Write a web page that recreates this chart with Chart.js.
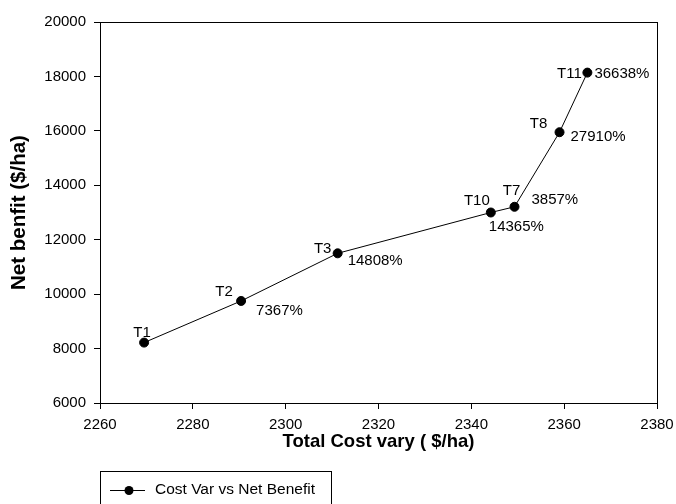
<!DOCTYPE html>
<html>
<head>
<meta charset="utf-8">
<script src="https://cdn.jsdelivr.net/npm/chart.js@4/dist/chart.umd.min.js"></script>
<style>
html,body{margin:0;padding:0;background:#fff;}
#wrap{width:676px;height:504px;position:relative;}
</style>
</head>
<body>
<div id="wrap"><canvas id="c" width="676" height="504"></canvas></div>
<script>
const treatments = ['T1', 'T2', 'T3', 'T10', 'T7', 'T8', 'T11'];
const totalCost = [2269.5, 2290.4, 2311.2, 2344.2, 2349.3, 2359.0, 2365.0];
const netBenefit = [8220, 9750, 11500, 13000, 13210, 15950, 18140];
const percents = ['', '7367%', '14808%', '14365%', '3857%', '27910%', '36638%'];
const xTicks = [2260, 2280, 2300, 2320, 2340, 2360, 2380];
const yTicks = [6000, 8000, 10000, 12000, 14000, 16000, 18000, 20000];
const seriesName = 'Cost Var vs Net Benefit';

const FONT = '"Liberation Sans", Arial, sans-serif';

// label offsets (style only): [name dx, name dy, pct dx(left edge), pct dy]
const nameOff = {T1:[-2,-10],T2:[-17,-9],T3:[-15,-4],T10:[-14,-12],T7:[-3,-16],T8:[-21,-8],T11:[-18,1]};
const pctOff = {T2:[15,10],T3:[10,8],T10:[-2,14],T7:[17,-7],T8:[11,5],T11:[7,1]};

const decor = {
  id: 'decor',
  afterDraw(chart) {
    const ctx = chart.ctx;
    const a = chart.chartArea;
    const xs = chart.scales.x, ys = chart.scales.y;
    ctx.save();
    // frame
    ctx.strokeStyle = '#000';
    ctx.lineWidth = 1;
    ctx.strokeRect(Math.round(a.left)+0.5, Math.round(a.top)+0.5, Math.round(a.right-a.left), Math.round(a.bottom-a.top));
    // point labels
    ctx.fillStyle = '#000';
    ctx.font = '15px ' + FONT;
    ctx.textBaseline = 'middle';
    treatments.forEach((t, i) => {
      const px = xs.getPixelForValue(totalCost[i]);
      const py = ys.getPixelForValue(netBenefit[i]);
      const no = nameOff[t];
      ctx.textAlign = 'center';
      ctx.fillText(t, px + no[0], py + no[1]);
      if (percents[i]) {
        const po = pctOff[t];
        ctx.textAlign = 'left';
        ctx.fillText(percents[i], px + po[0], py + po[1]);
      }
    });
    // legend box
    const lx = a.left, ly = 471;
    ctx.strokeRect(Math.round(lx)+0.5, ly+0.5, 231, 45);
    ctx.beginPath();
    ctx.moveTo(lx + 10, 490.5);
    ctx.lineTo(lx + 45, 490.5);
    ctx.stroke();
    ctx.beginPath();
    ctx.arc(lx + 29, 490.5, 4.5, 0, Math.PI * 2);
    ctx.fill();
    ctx.textAlign = 'left';
    ctx.font = '15.5px ' + FONT;
    ctx.fillText(chart.data.datasets[0].label, lx + 55, 490);
    ctx.restore();
  }
};

new Chart(document.getElementById('c'), {
  type: 'scatter',
  data: {
    datasets: [{
      label: seriesName,
      data: totalCost.map((x, i) => ({x: x, y: netBenefit[i]})),
      showLine: true,
      borderColor: '#000',
      borderWidth: 1,
      backgroundColor: '#000',
      pointBackgroundColor: '#000',
      pointBorderColor: '#000',
      pointRadius: 4.5,
      pointHoverRadius: 4.5,
      tension: 0
    }]
  },
  options: {
    responsive: false,
    animation: false,
    devicePixelRatio: 1,
    layout: {padding: {left: 3, top: 22, right: 19, bottom: 47}},
    plugins: {legend: {display: false}, tooltip: {enabled: false}},
    scales: {
      x: {
        type: 'linear',
        min: 2260, max: 2380,
        afterBuildTicks(s) { s.ticks = xTicks.map(v => ({value: v})); },
        afterFit(s) { s.height = 54; s.paddingLeft = 0; s.paddingRight = 0; },
        grid: {drawOnChartArea: false, tickLength: 6, color: '#000'},
        border: {color: '#000', width: 1},
        ticks: {color: '#000', font: {family: FONT, size: 15}, padding: 7, maxRotation: 0, callback: v => String(v)},
        title: {display: true, text: 'Total Cost vary ( $/ha)', color: '#000', font: {family: FONT, size: 18.5, weight: 'bold'}}
      },
      y: {
        type: 'linear',
        min: 6000, max: 20000,
        afterBuildTicks(s) { s.ticks = yTicks.map(v => ({value: v})); },
        afterFit(s) { s.width = 97; s.paddingTop = 0; s.paddingBottom = 0; },
        grid: {drawOnChartArea: false, tickLength: 6, color: '#000'},
        border: {color: '#000', width: 1},
        ticks: {color: '#000', font: {family: FONT, size: 15}, padding: 8, callback: v => String(v)},
        title: {display: true, text: 'Net benfit ($/ha)', color: '#000', font: {family: FONT, size: 20.5, weight: 'bold'}}
      }
    }
  },
  plugins: [decor]
});
</script>
</body>
</html>
